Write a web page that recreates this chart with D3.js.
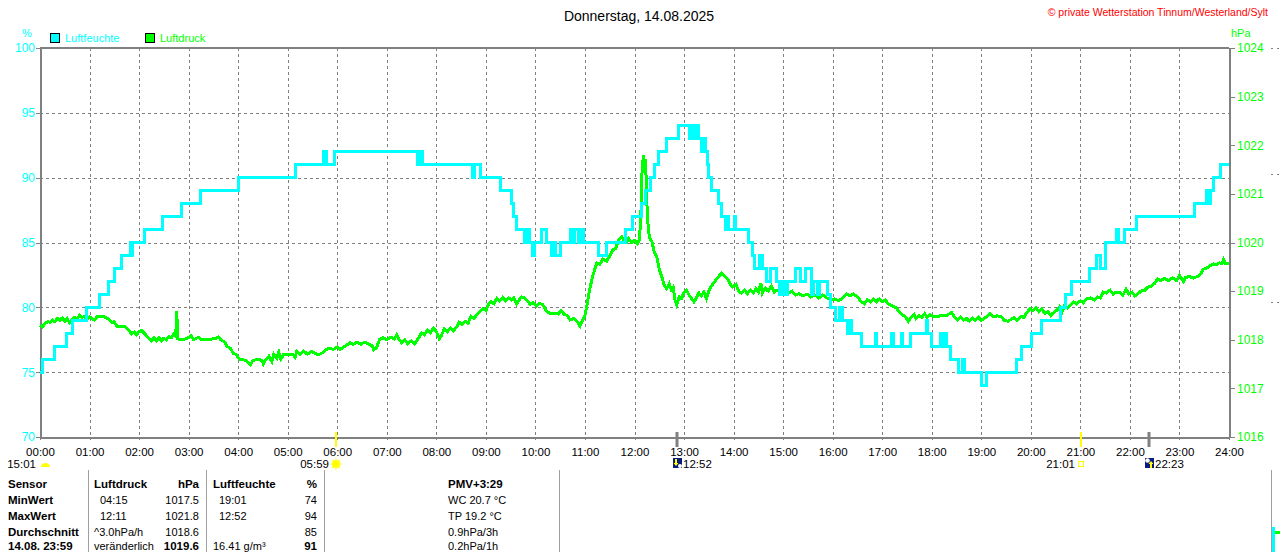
<!DOCTYPE html>
<meta charset="utf-8">
<style>
  body { margin: 0; background: #fff; }
  svg { font-family: "Liberation Sans", Arial, sans-serif; }
  .grid line { stroke: #808080; stroke-width: 1; stroke-dasharray: 3,3; shape-rendering: crispEdges; }
  .axis path, .axis line { stroke: #808080; shape-rendering: crispEdges; }
  .axis path { stroke-width: 2; }
  .series { fill: none; stroke-width: 3; stroke-linejoin: miter; shape-rendering: crispEdges; }
  .tbl { font-size: 11px; fill: #000; }
  .tbl .b { font-weight: bold; font-size: 11.5px; }
</style>
<svg width="1280" height="552"></svg>
<script src="https://d3js.org/d3.v7.min.js"></script>
<script>

// ---- data ----
var hourTicks = [0,1,2,3,4,5,6,7,8,9,10,11,12,13,14,15,16,17,18,19,20,21,22,23,24];
var humTicks = [70,75,80,85,90,95,100];
var pressTicks = [1016,1017,1018,1019,1020,1021,1022,1023,1024];

// Luftfeuchte: [hour, %] change points (step line)
var humidity = [
  [0.00,75],[0.05,76],[0.30,77],[0.54,78],[0.66,79],[0.93,80],[1.20,81],[1.38,82],[1.51,83],
  [1.65,84],[1.83,85],[1.85,84],[1.87,85],[2.10,86],[2.48,87],[2.86,88],[3.24,89],[4.00,90],
  [5.15,91],[5.72,92],[5.79,91],[5.95,92],[7.62,91],[7.68,92],[7.72,91],[8.73,90],[8.77,91],
  [8.90,90],[9.30,89],[9.51,88],[9.55,87],[9.62,86],[9.78,85],[9.82,86],[9.88,85],[9.95,84],
  [9.99,85],[10.12,86],[10.22,85],[10.33,84],[10.38,85],[10.41,84],[10.50,85],[10.70,86],
  [10.75,85],[10.78,86],[10.86,85],[10.90,86],[10.98,85],[11.28,84],[11.44,85],[11.81,86],
  [11.96,87],[12.15,88],[12.23,89],[12.32,90],[12.41,91],[12.49,92],[12.64,93],[12.89,94],
  [13.12,93],[13.15,94],[13.20,93],[13.24,94],[13.30,93],[13.36,92],[13.40,93],[13.44,92],
  [13.48,91],[13.50,90],[13.55,89],[13.69,88],[13.76,87],[13.83,86],[13.87,87],[13.90,86],
  [14.01,87],[14.03,86],[14.30,85],[14.38,84],[14.43,83],[14.53,84],[14.58,83],[14.67,82],
  [14.74,83],[14.87,82],[14.93,81],[14.99,82],[15.04,81],[15.08,82],[15.25,83],[15.36,82],
  [15.46,83],[15.58,81],[15.62,82],[15.70,81],[15.74,82],[15.90,81],[15.95,80],[16.05,79],
  [16.13,80],[16.20,79],[16.30,78],[16.34,79],[16.38,78],[16.59,77],[16.86,78],[16.89,77],
  [17.19,78],[17.22,77],[17.38,78],[17.41,77],[17.57,78],[17.89,79],[17.92,78],[17.99,77],
  [18.17,78],[18.22,77],[18.25,78],[18.30,77],[18.37,76],[18.54,75],[18.62,76],[18.66,75],
  [19.01,74],[19.10,75],[19.72,76],[19.82,77],[20.02,78],[20.22,79],[20.59,80],[20.69,81],
  [20.83,82],[21.19,83],[21.33,84],[21.40,83],[21.50,85],[21.72,86],[21.76,85],[21.90,86],
  [22.14,87],[23.31,88],[23.55,89],[23.58,88],[23.62,89],[23.69,90],[23.82,91],[24.00,91]
];

// Luftdruck: [hour, hPa]
var pressure = [
  [0.00,1018.30],[0.05,1018.26],[0.10,1018.33],[0.15,1018.37],[0.20,1018.36],[0.25,1018.41],
  [0.30,1018.37],[0.35,1018.44],[0.40,1018.40],[0.45,1018.45],[0.50,1018.38],[0.55,1018.43],
  [0.60,1018.35],[0.65,1018.42],[0.70,1018.46],[0.75,1018.43],[0.80,1018.50],[0.85,1018.46],
  [0.90,1018.48],[0.95,1018.42],[1.00,1018.47],[1.05,1018.44],[1.10,1018.40],[1.15,1018.47],
  [1.20,1018.47],[1.30,1018.47],[1.38,1018.43],[1.45,1018.35],[1.50,1018.37],[1.55,1018.28],
  [1.70,1018.28],[1.79,1018.20],[1.85,1018.12],[1.90,1018.16],[1.95,1018.10],[2.00,1018.17],
  [2.05,1018.19],[2.12,1018.12],[2.19,1018.03],[2.25,1017.98],[2.30,1018.04],[2.35,1017.98],
  [2.40,1018.04],[2.45,1017.98],[2.50,1018.03],[2.55,1018.00],[2.60,1018.06],[2.65,1018.04],
  [2.70,1018.12],[2.74,1018.08],[2.76,1018.60],[2.78,1018.02],[2.85,1018.00],[2.95,1018.02],
  [3.05,1018.08],[3.10,1018.00],[3.20,1018.05],[3.25,1018.00],[3.40,1018.01],[3.55,1018.02],
  [3.60,1018.06],[3.65,1018.00],[3.72,1017.96],[3.78,1017.86],[3.85,1017.82],[3.90,1017.72],
  [3.95,1017.70],[4.04,1017.59],[4.15,1017.58],[4.25,1017.49],[4.30,1017.58],[4.40,1017.59],
  [4.48,1017.58],[4.51,1017.50],[4.55,1017.58],[4.62,1017.66],[4.68,1017.55],[4.72,1017.70],
  [4.78,1017.62],[4.82,1017.74],[4.86,1017.60],[4.92,1017.70],[5.00,1017.69],[5.11,1017.70],
  [5.15,1017.64],[5.18,1017.76],[5.25,1017.70],[5.32,1017.77],[5.40,1017.70],[5.48,1017.76],
  [5.55,1017.72],[5.62,1017.69],[5.70,1017.73],[5.78,1017.80],[5.85,1017.83],[5.92,1017.80],
  [6.00,1017.85],[6.05,1017.80],[6.12,1017.84],[6.26,1017.94],[6.32,1017.90],[6.40,1017.95],
  [6.48,1017.91],[6.55,1017.95],[6.62,1017.92],[6.70,1017.88],[6.74,1017.79],[6.80,1017.85],
  [6.85,1018.00],[6.92,1018.04],[7.00,1018.00],[7.08,1018.05],[7.15,1018.02],[7.20,1018.10],
  [7.25,1018.00],[7.30,1017.94],[7.36,1018.00],[7.42,1017.92],[7.50,1017.98],[7.56,1017.92],
  [7.62,1018.00],[7.70,1018.14],[7.76,1018.10],[7.82,1018.20],[7.88,1018.14],[7.94,1018.24],
  [8.00,1018.17],[8.06,1018.02],[8.10,1018.08],[8.16,1018.22],[8.22,1018.16],[8.28,1018.24],
  [8.34,1018.18],[8.41,1018.26],[8.46,1018.36],[8.52,1018.32],[8.58,1018.38],[8.64,1018.34],
  [8.70,1018.48],[8.76,1018.44],[8.82,1018.52],[8.88,1018.58],[8.94,1018.64],[9.00,1018.60],
  [9.05,1018.72],[9.10,1018.78],[9.16,1018.74],[9.22,1018.85],[9.28,1018.80],[9.34,1018.87],
  [9.40,1018.80],[9.46,1018.86],[9.52,1018.82],[9.56,1018.86],[9.62,1018.74],[9.66,1018.80],
  [9.72,1018.88],[9.78,1018.86],[9.84,1018.80],[9.89,1018.73],[9.95,1018.76],[10.02,1018.70],
  [10.08,1018.75],[10.15,1018.72],[10.23,1018.58],[10.30,1018.54],[10.40,1018.55],[10.46,1018.53],
  [10.52,1018.60],[10.58,1018.52],[10.64,1018.50],[10.70,1018.41],[10.78,1018.44],[10.84,1018.38],
  [10.90,1018.28],[10.95,1018.40],[11.00,1018.50],[11.04,1018.70],[11.08,1018.95],[11.12,1019.15],
  [11.16,1019.32],[11.20,1019.45],[11.24,1019.58],[11.30,1019.55],[11.36,1019.66],[11.44,1019.62],
  [11.50,1019.72],[11.56,1019.85],[11.62,1019.88],[11.68,1020.05],[11.74,1020.12],[11.78,1020.05],
  [11.84,1020.00],[11.88,1020.08],[11.94,1020.00],[12.00,1020.04],[12.06,1019.98],[12.10,1020.05],
  [12.13,1020.60],[12.15,1021.40],[12.18,1021.80],[12.20,1021.55],[12.22,1021.72],[12.24,1021.20],
  [12.26,1020.50],[12.30,1020.10],[12.35,1020.02],[12.40,1019.80],[12.45,1019.70],[12.50,1019.45],
  [12.55,1019.30],[12.60,1019.12],[12.65,1019.05],[12.70,1019.15],[12.74,1019.03],[12.78,1019.08],
  [12.82,1018.80],[12.85,1018.72],[12.90,1018.88],[12.95,1018.85],[13.00,1018.98],[13.05,1019.02],
  [13.10,1018.92],[13.15,1018.85],[13.20,1018.78],[13.25,1018.86],[13.30,1018.96],[13.35,1018.90],
  [13.40,1018.98],[13.45,1018.85],[13.50,1019.00],[13.55,1019.10],[13.62,1019.20],[13.70,1019.30],
  [13.76,1019.37],[13.82,1019.30],[13.88,1019.25],[13.93,1019.15],[13.98,1019.08],[14.05,1019.14],
  [14.10,1019.00],[14.16,1018.96],[14.22,1019.02],[14.28,1018.95],[14.34,1019.02],[14.40,1018.96],
  [14.45,1019.05],[14.50,1018.98],[14.55,1019.16],[14.58,1018.96],[14.64,1019.06],[14.70,1019.00],
  [14.76,1019.10],[14.82,1018.98],[14.88,1019.02],[14.95,1018.97],[15.02,1019.00],[15.10,1018.96],
  [15.18,1019.00],[15.25,1018.92],[15.32,1018.95],[15.40,1018.90],[15.48,1018.94],[15.56,1018.88],
  [15.64,1018.92],[15.72,1018.86],[15.80,1018.92],[15.88,1018.86],[15.96,1018.82],[16.04,1018.84],
  [16.12,1018.80],[16.20,1018.86],[16.28,1018.94],[16.35,1018.90],[16.42,1018.94],[16.50,1018.88],
  [16.58,1018.78],[16.64,1018.74],[16.70,1018.82],[16.76,1018.78],[16.82,1018.84],[16.88,1018.78],
  [16.94,1018.84],[17.00,1018.78],[17.06,1018.82],[17.12,1018.74],[17.20,1018.70],[17.28,1018.66],
  [17.34,1018.58],[17.40,1018.52],[17.46,1018.48],[17.53,1018.38],[17.58,1018.46],[17.64,1018.52],
  [17.68,1018.44],[17.74,1018.50],[17.80,1018.46],[17.86,1018.54],[17.90,1018.46],[17.96,1018.52],
  [18.02,1018.48],[18.10,1018.48],[18.17,1018.49],[18.30,1018.50],[18.40,1018.56],[18.46,1018.47],
  [18.52,1018.40],[18.58,1018.46],[18.64,1018.40],[18.70,1018.44],[18.76,1018.38],[18.82,1018.45],
  [18.88,1018.40],[18.94,1018.46],[19.00,1018.40],[19.06,1018.44],[19.12,1018.48],[19.18,1018.54],
  [19.24,1018.48],[19.32,1018.49],[19.40,1018.48],[19.46,1018.40],[19.54,1018.38],[19.60,1018.42],
  [19.66,1018.45],[19.72,1018.40],[19.80,1018.48],[19.86,1018.46],[19.92,1018.56],[19.98,1018.64],
  [20.04,1018.60],[20.10,1018.66],[20.16,1018.58],[20.22,1018.64],[20.28,1018.54],[20.34,1018.58],
  [20.40,1018.50],[20.46,1018.56],[20.52,1018.60],[20.58,1018.68],[20.62,1018.55],[20.68,1018.70],
  [20.74,1018.65],[20.80,1018.72],[20.86,1018.78],[20.92,1018.74],[21.00,1018.80],[21.06,1018.76],
  [21.13,1018.85],[21.20,1018.86],[21.28,1018.82],[21.34,1018.88],[21.40,1018.86],[21.46,1018.98],
  [21.52,1018.96],[21.60,1019.02],[21.66,1018.94],[21.72,1018.98],[21.80,1018.97],[21.86,1018.92],
  [21.92,1019.04],[21.98,1018.94],[22.04,1018.98],[22.10,1018.90],[22.16,1018.94],[22.22,1019.00],
  [22.30,1019.02],[22.36,1019.08],[22.42,1019.10],[22.50,1019.16],[22.56,1019.25],[22.62,1019.22],
  [22.70,1019.26],[22.78,1019.22],[22.86,1019.27],[22.94,1019.22],[23.00,1019.32],[23.04,1019.26],
  [23.08,1019.20],[23.12,1019.28],[23.20,1019.30],[23.28,1019.27],[23.36,1019.30],[23.42,1019.34],
  [23.48,1019.45],[23.56,1019.48],[23.62,1019.52],[23.68,1019.56],[23.74,1019.54],[23.80,1019.58],
  [23.86,1019.57],[23.89,1019.65],[23.93,1019.57],[24.00,1019.57]
];

// sun / moon events: [hour, label, kind, side]
var events = [
  [0, "15:01", "moonhalf", "left"],
  [5 + 59/60, "05:59", "sunrise", "left"],
  [12 + 52/60, "12:52", "moonset", "right"],
  [21 + 1/60, "21:01", "sunset", "left"],
  [22 + 23/60, "22:23", "moonrise", "right"]
];

// table below the chart
var tblSensor = ["Sensor", "MinWert", "MaxWert", "Durchschnitt", "14.08. 23:59"];
var tblDruckA = ["Luftdruck", "04:15", "12:11", "^3.0hPa/h", "veränderlich"];
var tblDruckB = ["hPa", "1017.5", "1021.8", "1018.6", "1019.6"];
var tblFeuchteA = ["Luftfeuchte", "19:01", "12:52", "", "16.41 g/m³"];
var tblFeuchteB = ["%", "74", "94", "85", "91"];
var tblExtra = ["PMV+3:29", "WC 20.7 °C", "TP 19.2 °C", "0.9hPa/3h", "0.2hPa/1h"];

// ---- drawing ----
var svg = d3.select("svg");
var pLeft = 40, pRight = 1229, pTop = 48, pBottom = 437;

var x = d3.scaleLinear().domain([0, 24]).range([pLeft, pRight]);
var yH = d3.scaleLinear().domain([70, 100]).range([pBottom, pTop]);
var yP = d3.scaleLinear().domain([1016, 1024]).range([pBottom, pTop]);

function hh(h) { return (h < 10 ? "0" : "") + h + ":00"; }

// title + credit
svg.append("text")
  .attr("x", 639).attr("y", 21)
  .attr("text-anchor", "middle")
  .style("font-size", "14px")
  .text("Donnerstag, 14.08.2025");

svg.append("text")
  .attr("x", 1268).attr("y", 16)
  .attr("text-anchor", "end")
  .style("font-size", "10.5px")
  .style("fill", "#ff0000")
  .text("© private Wetterstation Tinnum/Westerland/Sylt");

// unit labels
svg.append("text").attr("x", 27).attr("y", 37).attr("text-anchor", "middle")
  .style("font-size", "11px").style("fill", "#00ffff").text("%");
svg.append("text").attr("x", 1231).attr("y", 37)
  .style("font-size", "11px").style("fill", "#00ff00").text("hPa");

// legend
var legend = svg.append("g");
[["Luftfeuchte", "#00ffff", 50], ["Luftdruck", "#00ff00", 145]].forEach(function(l) {
  legend.append("rect").attr("x", l[2] + 0.5).attr("y", 33.5).attr("width", 9).attr("height", 9)
    .style("fill", l[1]).style("stroke", "#000");
  legend.append("text").attr("x", l[2] + 15).attr("y", 42)
    .style("font-size", "11px").style("fill", l[1]).text(l[0]);
});

// grid
var grid = svg.append("g").attr("class", "grid");
grid.selectAll(".v").data(hourTicks.slice(1, -1)).enter().append("line")
  .attr("x1", function(d) { return Math.round(x(d)) + 0.5; })
  .attr("x2", function(d) { return Math.round(x(d)) + 0.5; })
  .attr("y1", pTop).attr("y2", pBottom);
grid.selectAll(".h").data(humTicks.slice(1, -1)).enter().append("line")
  .attr("x1", pLeft).attr("x2", pRight)
  .attr("y1", function(d) { return Math.round(yH(d)) + 0.5; })
  .attr("y2", function(d) { return Math.round(yH(d)) + 0.5; });

// frame top
svg.append("line").attr("x1", pLeft).attr("x2", pRight).attr("y1", pTop).attr("y2", pTop)
  .style("stroke", "#808080").style("stroke-width", 2);

// axes
var ax = svg.append("g").attr("class", "axis").attr("transform", "translate(0," + pBottom + ")")
  .call(d3.axisBottom(x).tickValues(hourTicks).tickFormat(hh).tickSize(3).tickSizeOuter(0).tickPadding(8));
ax.selectAll("text").style("font-size", "11.5px").style("fill", "#000");

var ay = svg.append("g").attr("class", "axis").attr("transform", "translate(" + pLeft + ",0)")
  .call(d3.axisLeft(yH).tickValues(humTicks).tickSize(4).tickSizeOuter(0).tickPadding(1));
ay.selectAll("text").style("font-size", "12px").style("fill", "#00ffff");

var ap = svg.append("g").attr("class", "axis").attr("transform", "translate(" + pRight + ",0)")
  .call(d3.axisRight(yP).tickValues(pressTicks).tickFormat(d3.format("d"))
    .tickSize(6).tickSizeOuter(0).tickPadding(2));
ap.selectAll("text").style("font-size", "12px").style("fill", "#00ff00");

// series
var linePress = d3.line().x(function(d) { return x(d[0]); }).y(function(d) { return yP(d[1]); });
var lineHum = d3.line().x(function(d) { return x(d[0]); }).y(function(d) { return yH(d[1]); })
  .curve(d3.curveStepAfter);

svg.append("path").datum(pressure).attr("class", "series").attr("d", linePress)
  .style("stroke", "#00ff00");
svg.append("path").datum(humidity).attr("class", "series").attr("d", lineHum)
  .style("stroke", "#00ffff");

// event markers
var ev = svg.append("g");
events.forEach(function(e) {
  var ex = Math.round(x(e[0]));
  if (e[2] !== "moonhalf") {
    var sun = (e[2] === "sunrise" || e[2] === "sunset");
    ev.append("line").attr("x1", ex).attr("x2", ex).attr("y1", 432).attr("y2", 447)
      .style("stroke", sun ? "#ffff00" : "#808080").style("stroke-width", sun ? 2 : 3);
  }
  var iconX = ex;
  if (e[2] === "moonhalf") {
    ev.append("path").attr("d", "M" + (ex + 1) + ",467 a4.5,4 0 0 1 9,0 z").style("fill", "#ffff00");
  } else if (e[2] === "sunrise") {
    var g = ev.append("g").attr("transform", "translate(" + ex + ",464)");
    [0, 45, 90, 135].forEach(function(a) {
      g.append("line").attr("x1", -6).attr("x2", 6).attr("transform", "rotate(" + a + ")")
        .style("stroke", "#ffff60").style("stroke-width", 1.5);
    });
    g.append("circle").attr("r", 4).style("fill", "#ffff00");
    iconX = ex - 7;
  } else if (e[2] === "sunset") {
    ev.append("rect").attr("x", ex - 2.5).attr("y", 461.5).attr("width", 5).attr("height", 5)
      .style("fill", "none").style("stroke", "#ffff00");
    iconX = ex - 6;
  } else {
    var g2 = ev.append("g").attr("transform", "translate(" + (ex - 4) + ",458)");
    g2.append("rect").attr("width", 9).attr("height", 10).style("fill", "#0a1a80");
    if (e[2] === "moonset") {
      g2.append("circle").attr("cx", 7).attr("cy", 8).attr("r", 2).style("fill", "#fff");
      g2.append("path").attr("d", "M2,1 v4 h-1.5 l2.5,3 l2.5,-3 h-1.5 v-4 z").style("fill", "#ffff00");
    } else {
      g2.append("circle").attr("cx", 2.5).attr("cy", 2.5).attr("r", 2.3).style("fill", "#fff");
      g2.append("path").attr("d", "M5,10 v-4 h-1.5 l2.5,-3 l2.5,3 h-1.5 v4 z").style("fill", "#ffff00");
    }
    iconX = ex + 5;
  }
  ev.append("text")
    .attr("x", e[3] === "left" ? (e[2] === "moonhalf" ? ex - 4 : iconX) : iconX + 1)
    .attr("y", 468)
    .attr("text-anchor", e[3] === "left" ? "end" : "start")
    .style("font-size", "11.5px")
    .text(e[1]);
});

// table
var tbl = svg.append("g").attr("class", "tbl");
[88, 206, 324, 559].forEach(function(sx) {
  tbl.append("line").attr("x1", sx + 0.5).attr("x2", sx + 0.5).attr("y1", 470).attr("y2", 552)
    .style("stroke", "#a0a0a0");
});
var rowY = [488, 504, 520, 536, 550];
function col(arr, cx, anchor, boldFn) {
  arr.forEach(function(t, i) {
    tbl.append("text").attr("x", cx).attr("y", rowY[i])
      .attr("text-anchor", anchor)
      .attr("class", boldFn(i) ? "b" : null)
      .text(t);
  });
}
col(tblSensor, 8, "start", function() { return true; });
col(tblDruckA, 94, "start", function(i) { return i === 0; });
col(tblDruckB, 199, "end", function(i) { return i === 0 || i === 4; });
col(tblFeuchteA, 213, "start", function(i) { return i === 0; });
col(tblFeuchteB, 317, "end", function(i) { return i === 0 || i === 4; });
col(tblExtra, 448, "start", function(i) { return i === 0; });
// indent time values a little like the original
tbl.selectAll("text").filter(function() { return /^\d\d:\d\d$/.test(this.textContent); })
  .attr("x", function() { return +d3.select(this).attr("x") + 6; });

// fragment of the neighbouring panel at the right edge
var frag = svg.append("g");
frag.append("line").attr("x1", 1271.5).attr("x2", 1271.5).attr("y1", 470).attr("y2", 552)
  .style("stroke", "#a0a0a0");
frag.append("rect").attr("x", 1272).attr("y", 527).attr("width", 3).attr("height", 25).style("fill", "#00ffff");
frag.append("rect").attr("x", 1275).attr("y", 531).attr("width", 5).attr("height", 3).style("fill", "#00ff00");
[48, 174, 302].forEach(function(fy) {
  frag.append("line").attr("x1", 1271).attr("x2", 1280).attr("y1", fy + 0.5).attr("y2", fy + 0.5)
    .style("stroke", "#808080").style("stroke-dasharray", "2,4");
});
</script>
